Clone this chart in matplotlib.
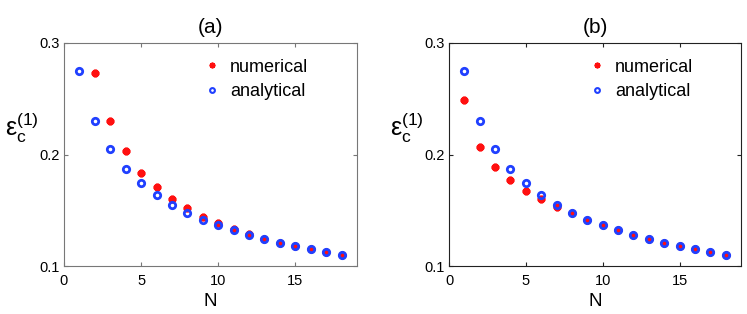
import numpy as np
import matplotlib
matplotlib.use('Agg')
import matplotlib.pyplot as plt

plt.rcParams['font.family'] = ['Liberation Sans', 'DejaVu Sans']
plt.rcParams['mathtext.fontset'] = 'custom'
plt.rcParams['mathtext.rm'] = 'Liberation Sans'
plt.rcParams['mathtext.it'] = 'Liberation Sans:italic'

# analytical curve (same in both panels)
n_ana = np.arange(1, 19)
ana = [0.275, 0.230, 0.2046, 0.1867, 0.1742, 0.1634, 0.1547, 0.1478, 0.1413,
       0.1365, 0.1320, 0.1278, 0.1240, 0.1210, 0.1180, 0.1150, 0.1123, 0.1099]

# numerical, panel (a) starts at N=2
n_num_a = np.arange(2, 19)
num_a = [0.2734, 0.2303, 0.2029, 0.1837, 0.1706, 0.1598, 0.1517, 0.1443,
         0.1383, 0.1332, 0.1284, 0.1242, 0.1210, 0.1180, 0.1150, 0.1123, 0.1099]

# numerical, panel (b)
n_num_b = np.arange(1, 19)
num_b = [0.2489, 0.2070, 0.1890, 0.1771, 0.1675, 0.1598, 0.1532, 0.1478, 0.1413,
         0.1365, 0.1320, 0.1278, 0.1240, 0.1210, 0.1180, 0.1150, 0.1123, 0.1099]

titles = ['(a)', '(b)']
red = '#ff1010'
blue = '#2040ff'

fig = plt.figure(figsize=(7.47, 3.14), dpi=100)
ax_a = fig.add_axes([64 / 747, 1 - 266 / 314, 293 / 747, 223 / 314])
ax_b = fig.add_axes([449 / 747, 1 - 266 / 314, 292 / 747, 223 / 314])

for ax, title, nn, num, sc in [(ax_a, titles[0], n_num_a, num_a, '#777777'),
                               (ax_b, titles[1], n_num_b, num_b, '#222222')]:
    ax.plot(nn, num, linestyle='none', marker=(8, 2, 0), markersize=5.5,
            markeredgewidth=2.0, color=red, markeredgecolor=red,
            label='numerical', zorder=2)
    ax.plot(n_ana, ana, linestyle='none', marker='o', markersize=4.6,
            markerfacecolor='none', markeredgecolor=blue, markeredgewidth=2.0,
            label='analytical', zorder=3)
    ax.set_xlim(0, 19)
    ax.set_ylim(0.1, 0.3)
    ax.set_xticks([0, 5, 10, 15])
    ax.set_yticks([0.1, 0.2, 0.3])
    ax.set_yticklabels(['0.1', '0.2', '0.3'])
    ax.tick_params(direction='in', top=True, right=True, labelsize=10.5,
                   length=3, color=sc, pad=6)
    ax.tick_params(axis='y', pad=3)
    for s in ax.spines.values():
        s.set_color(sc)
    ax.set_title(title, fontsize=15, pad=7)
    ax.set_xlabel('N', fontsize=13.5, labelpad=3)
    ax.set_ylabel(r'$\mathregular{\varepsilon_c^{(1)}}$', fontsize=18,
                  rotation=0, va='center')
    ax.yaxis.set_label_coords(-0.145, 0.62)
    leg = ax.legend(loc='upper left', bbox_to_anchor=(0.475, 0.93),
                    frameon=False, fontsize=13, handlelength=1.0,
                    handletextpad=0.5, borderaxespad=0, borderpad=0,
                    labelspacing=0.4, markerscale=0.75)
    leg.legend_handles[0].set_markeredgewidth(1.3)
    leg.legend_handles[1].set_markeredgewidth(1.5)

fig.savefig('out.png', dpi=100)
